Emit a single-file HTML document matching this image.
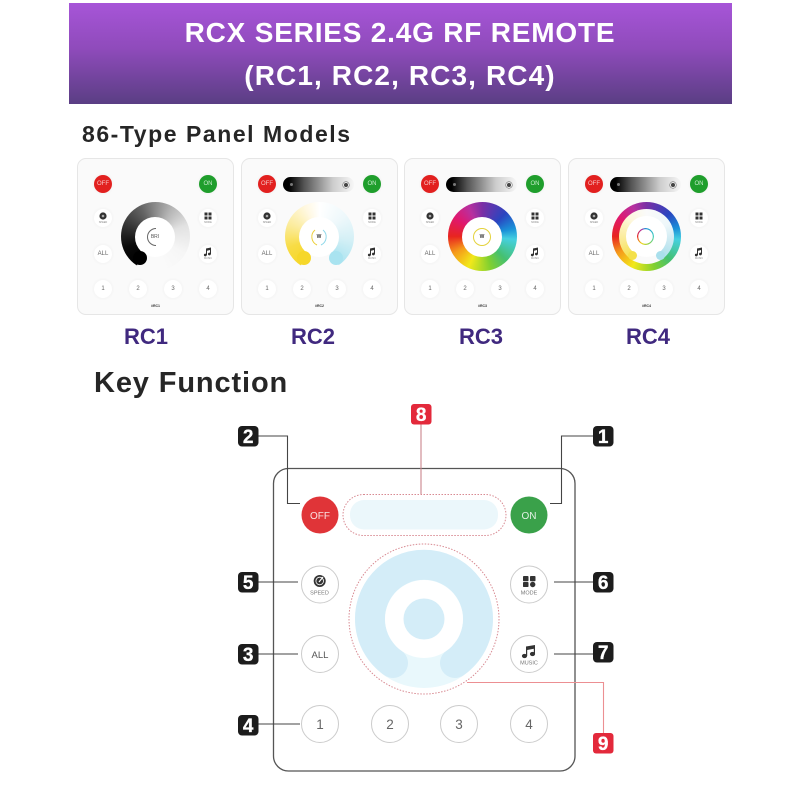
<!DOCTYPE html>
<html><head><meta charset="utf-8">
<style>
html,body{margin:0;padding:0;background:#fff;width:800px;height:800px;overflow:hidden}
body{position:relative;font-family:"Liberation Sans",sans-serif}
.abs{position:absolute}
.hdr{position:absolute;left:69px;top:3px;width:663px;height:101px;background:linear-gradient(#a755d8 0%,#8f4bbb 45%,#5a3e84 100%)}
.t{position:absolute;left:0;width:800px;text-align:center;color:#fff;font-weight:bold;white-space:nowrap}
.lab{position:absolute;top:323px;width:100px;text-align:center;font-size:22px;line-height:28px;font-weight:bold;color:#40297f}
.p{position:absolute;top:158px;width:155px;height:155px;background:#fafafa;border:1px solid #e6e6e6;border-radius:9px;filter:blur(.25px)}
.b{position:absolute;width:18px;height:18px;margin:-10px 0 0 -10px;border-radius:50%;background:#fff;box-shadow:0 0 3px #eee;font-size:6px;line-height:18px;text-align:center;color:#666}
.off{background:#e2201f;color:#f6c8c8}
.on{background:#1f9e2c;color:#c6eccb}
.b svg{position:absolute;left:0;top:0}
.b span{position:absolute;left:0;right:0;top:12px;font-size:2.5px;line-height:3px;color:#888}
.bar{position:absolute;left:41px;top:18px;width:71px;height:15px;border-radius:8px;background:linear-gradient(90deg,#000 8%,#555 30%,#ccc 70%,#f7f7f7 100%)}
.bar i{position:absolute;left:7px;top:6px;width:3px;height:3px;border-radius:50%;background:#777}
.bar b{position:absolute;left:61px;top:5.5px;width:4px;height:4px;border-radius:50%;background:#444;box-shadow:0 0 0 1px #eee,0 0 0 1.6px #777}
.w{position:absolute;left:43px;top:43px;width:69px;height:69px;border-radius:50%}
.i{position:absolute;border-radius:50%;background:#fff}
.m{position:absolute;left:0;width:155px;top:145px;text-align:center;font-size:3.5px;line-height:5px;color:#333;font-weight:bold}
.cap{position:absolute;border-radius:50%}
</style></head><body>

<div class="hdr"></div>
<div class="t" style="top:15px;font-size:28px;line-height:36px;letter-spacing:.8px">RCX SERIES 2.4G RF REMOTE</div>
<div class="t" style="top:58px;font-size:28px;line-height:36px;letter-spacing:1.1px">(RC1, RC2, RC3, RC4)</div>

<div class="abs" style="left:82px;top:119px;font-size:23px;line-height:30px;font-weight:bold;color:#262626;letter-spacing:1.55px;white-space:nowrap">86-Type Panel Models</div>
<div class="abs" style="left:94px;top:365px;font-size:29px;line-height:36px;font-weight:bold;color:#262626;letter-spacing:.87px;white-space:nowrap">Key Function</div>

<!-- RC1 -->
<div class="p" style="left:77px">
  <div class="w" style="background:conic-gradient(#8b8b8b 0deg,#b5b5b5 30deg,#e2e2e2 70deg,#f6f6f6 120deg,#fafafa 165deg,#fafafa 212deg,#000 214deg,#0a0a0a 250deg,#333 290deg,#666 335deg,#8b8b8b 360deg)"></div>
  <div class="i" style="left:57px;top:58px;width:40px;height:40px"></div>
  <div class="cap" style="left:55px;top:92px;width:14px;height:14px;background:#000"></div>
  <div class="abs" style="left:57px;top:71px;width:40px;text-align:center;font-size:5px;line-height:14px;color:#555">BRI</div>
  <svg class="abs" style="left:60px;top:61px" width="36" height="36"><path d="M18 8.5A8.5 8.5 0 0 0 18 25.5" fill="none" stroke="#666" stroke-width="1"/></svg>
  <div class="b off" style="left:26px;top:26px">OFF</div>
  <div class="b on" style="left:131px;top:26px">ON</div>
  <div class="b" style="left:26px;top:60px"><svg width="18" height="18"><circle cx="9" cy="7" r="3.6" fill="#333"/><circle cx="9" cy="7" r="1.3" fill="#aaa"/></svg><span>SPEED</span></div>
  <div class="b" style="left:131px;top:60px"><svg width="18" height="18"><path d="M5.5 3.5h3v3h-3zM9.5 3.5h3v3h-3zM5.5 7.5h3v3h-3zM9.5 7.5h3v3h-3z" fill="#333"/></svg><span>MODE</span></div>
  <div class="b" style="left:26px;top:96px">ALL</div>
  <div class="b" style="left:131px;top:96px"><svg width="18" height="18"><path d="M7 3.5L12 2.5V9H11V5L8 5.7V10H7Z" fill="#333"/><circle cx="6.3" cy="10" r="1.4" fill="#333"/><circle cx="10.4" cy="9" r="1.4" fill="#333"/></svg><span>MUSIC</span></div>
  <div class="b" style="left:26px;top:131px">1</div>
  <div class="b" style="left:61px;top:131px">2</div>
  <div class="b" style="left:96px;top:131px">3</div>
  <div class="b" style="left:131px;top:131px">4</div>
  <div class="m">#RC1</div>
</div>

<!-- RC2 -->
<div class="p" style="left:241px">
  <div class="bar"><i></i><b></b></div>
  <div class="w" style="background:conic-gradient(#fff 0deg,#eef8fb 50deg,#d5f0f6 95deg,#a9e3f0 145deg,#fafafa 147deg,#fafafa 212deg,#f6d72a 214deg,#f8dc45 250deg,#fbeb99 290deg,#fff8e2 335deg,#fff 360deg)"></div>
  <div class="i" style="left:57px;top:58px;width:40px;height:40px"></div>
  <div class="cap" style="left:55px;top:92px;width:14px;height:14px;background:#f6d72a"></div>
  <div class="cap" style="left:87px;top:92px;width:14px;height:14px;background:#a9e3f0"></div>
  <div class="abs" style="left:57px;top:71px;width:40px;text-align:center;font-size:5px;line-height:14px;color:#333;font-weight:bold">W</div>
  <svg class="abs" style="left:60px;top:61px" width="36" height="36"><path d="M13 10A9 9 0 0 0 15 25" fill="none" stroke="#eccf3a" stroke-width="1"/><path d="M21 10A9 9 0 0 1 19 25" fill="none" stroke="#8ed8ea" stroke-width="1"/></svg>
  <div class="b off" style="left:26px;top:26px">OFF</div>
  <div class="b on" style="left:131px;top:26px">ON</div>
  <div class="b" style="left:26px;top:60px"><svg width="18" height="18"><circle cx="9" cy="7" r="3.6" fill="#333"/><circle cx="9" cy="7" r="1.3" fill="#aaa"/></svg><span>SPEED</span></div>
  <div class="b" style="left:131px;top:60px"><svg width="18" height="18"><path d="M5.5 3.5h3v3h-3zM9.5 3.5h3v3h-3zM5.5 7.5h3v3h-3zM9.5 7.5h3v3h-3z" fill="#333"/></svg><span>MODE</span></div>
  <div class="b" style="left:26px;top:96px">ALL</div>
  <div class="b" style="left:131px;top:96px"><svg width="18" height="18"><path d="M7 3.5L12 2.5V9H11V5L8 5.7V10H7Z" fill="#333"/><circle cx="6.3" cy="10" r="1.4" fill="#333"/><circle cx="10.4" cy="9" r="1.4" fill="#333"/></svg><span>MUSIC</span></div>
  <div class="b" style="left:26px;top:131px">1</div>
  <div class="b" style="left:61px;top:131px">2</div>
  <div class="b" style="left:96px;top:131px">3</div>
  <div class="b" style="left:131px;top:131px">4</div>
  <div class="m">#RC2</div>
</div>

<!-- RC3 -->
<div class="p" style="left:404px">
  <div class="bar"><i></i><b></b></div>
  <div class="w" style="background:conic-gradient(#7a2fa5 0deg,#2a45c0 45deg,#1a90d8 75deg,#45d0e0 95deg,#45c070 135deg,#80d030 165deg,#f2e81a 205deg,#f59a1a 240deg,#e8251f 270deg,#e0186e 305deg,#b8309f 335deg,#7a2fa5 360deg)"></div>
  <div class="i" style="left:57px;top:58px;width:40px;height:40px"></div>
  <div class="abs" style="left:68px;top:69px;width:16px;height:16px;border-radius:50%;border:1px solid #e4d23c;text-align:center;font-size:5px;line-height:16px;font-weight:bold;color:#333">W</div>
  <div class="b off" style="left:26px;top:26px">OFF</div>
  <div class="b on" style="left:131px;top:26px">ON</div>
  <div class="b" style="left:26px;top:60px"><svg width="18" height="18"><circle cx="9" cy="7" r="3.6" fill="#333"/><circle cx="9" cy="7" r="1.3" fill="#aaa"/></svg><span>SPEED</span></div>
  <div class="b" style="left:131px;top:60px"><svg width="18" height="18"><path d="M5.5 3.5h3v3h-3zM9.5 3.5h3v3h-3zM5.5 7.5h3v3h-3zM9.5 7.5h3v3h-3z" fill="#333"/></svg><span>MODE</span></div>
  <div class="b" style="left:26px;top:96px">ALL</div>
  <div class="b" style="left:131px;top:96px"><svg width="18" height="18"><path d="M7 3.5L12 2.5V9H11V5L8 5.7V10H7Z" fill="#333"/><circle cx="6.3" cy="10" r="1.4" fill="#333"/><circle cx="10.4" cy="9" r="1.4" fill="#333"/></svg><span>MUSIC</span></div>
  <div class="b" style="left:26px;top:131px">1</div>
  <div class="b" style="left:61px;top:131px">2</div>
  <div class="b" style="left:96px;top:131px">3</div>
  <div class="b" style="left:131px;top:131px">4</div>
  <div class="m">#RC3</div>
</div>

<!-- RC4 -->
<div class="p" style="left:568px">
  <div class="bar"><i></i><b></b></div>
  <div class="w" style="background:conic-gradient(#7a2fa5 0deg,#2a45c0 45deg,#1a90d8 75deg,#45d0e0 95deg,#45c070 135deg,#80d030 165deg,#f2e81a 205deg,#f59a1a 240deg,#e8251f 270deg,#e0186e 305deg,#b8309f 335deg,#7a2fa5 360deg)"></div>
  <div class="i" style="left:50px;top:50px;width:55px;height:55px;background:conic-gradient(#fafafa 0deg,#eef7fa 60deg,#cdeaf2 100deg,#a9dfec 145deg,#fafafa 147deg,#fafafa 212deg,#f4e04a 214deg,#fbeb99 265deg,#fdf8e0 320deg,#fafafa 360deg)"></div>
  <div class="i" style="left:57px;top:57px;width:41px;height:41px;background:#fff"></div>
  <div class="cap" style="left:59px;top:92px;width:9px;height:9px;background:#f4e04a"></div>
  <div class="cap" style="left:87px;top:92px;width:9px;height:9px;background:#a9dfec"></div>
  <div class="abs" style="left:68px;top:69px;width:17px;height:17px;border-radius:50%;background:conic-gradient(#1a8fd8 0deg,#45d0c0 90deg,#90d040 160deg,#f2d81a 210deg,#e8251f 270deg,#b030a0 330deg,#1a8fd8 360deg);-webkit-mask:radial-gradient(circle,transparent 7px,#000 7.5px);mask:radial-gradient(circle,transparent 7px,#000 7.5px)"></div>
  <div class="b off" style="left:26px;top:26px">OFF</div>
  <div class="b on" style="left:131px;top:26px">ON</div>
  <div class="b" style="left:26px;top:60px"><svg width="18" height="18"><circle cx="9" cy="7" r="3.6" fill="#333"/><circle cx="9" cy="7" r="1.3" fill="#aaa"/></svg><span>SPEED</span></div>
  <div class="b" style="left:131px;top:60px"><svg width="18" height="18"><path d="M5.5 3.5h3v3h-3zM9.5 3.5h3v3h-3zM5.5 7.5h3v3h-3zM9.5 7.5h3v3h-3z" fill="#333"/></svg><span>MODE</span></div>
  <div class="b" style="left:26px;top:96px">ALL</div>
  <div class="b" style="left:131px;top:96px"><svg width="18" height="18"><path d="M7 3.5L12 2.5V9H11V5L8 5.7V10H7Z" fill="#333"/><circle cx="6.3" cy="10" r="1.4" fill="#333"/><circle cx="10.4" cy="9" r="1.4" fill="#333"/></svg><span>MUSIC</span></div>
  <div class="b" style="left:26px;top:131px">1</div>
  <div class="b" style="left:61px;top:131px">2</div>
  <div class="b" style="left:96px;top:131px">3</div>
  <div class="b" style="left:131px;top:131px">4</div>
  <div class="m">#RC4</div>
</div>

<div class="lab" style="left:96px">RC1</div>
<div class="lab" style="left:263px">RC2</div>
<div class="lab" style="left:431px">RC3</div>
<div class="lab" style="left:598px">RC4</div>

<svg class="abs" style="left:0;top:0" width="800" height="800" viewBox="0 0 800 800" font-family="'Liberation Sans',sans-serif">
  <!-- frame -->
  <rect x="273.5" y="468.5" width="301.5" height="302.5" rx="15" fill="#fff" stroke="#555" stroke-width="1.3"/>
  <!-- top bar -->
  <rect x="343" y="494.5" width="163" height="41" rx="20.5" fill="#fff" stroke="#d88a92" stroke-width="1" stroke-dasharray="1.5 1.5"/>
  <rect x="350" y="500" width="148" height="29.5" rx="14" fill="#ebf7fb"/>
  <!-- wheel -->
  <circle cx="424" cy="619" r="75" fill="#fff" stroke="#d88a92" stroke-width="1" stroke-dasharray="1.5 1.5"/>
  <circle cx="424" cy="619" r="69" fill="#e9f8fc"/>
  <path d="M393 663A54 54 0 1 1 455 663" fill="none" stroke="#d4edf8" stroke-width="30" stroke-linecap="round"/>
  <circle cx="424" cy="619" r="39" fill="#fff"/>
  <circle cx="424" cy="619" r="20.5" fill="#d4edf8"/>
  <!-- connectors -->
  <g fill="none" stroke="#444" stroke-width="1.1">
    <path d="M258 436H287.5V503.5H300"/>
    <path d="M593 436H561.5V503.5H550"/>
    <path d="M258 582H298"/>
    <path d="M554 582H593"/>
    <path d="M258 654H298"/>
    <path d="M554 654H593"/>
    <path d="M258 724H300"/>
  </g>
  <path d="M421 424V494" fill="none" stroke="#c9868c" stroke-width="1.1"/>
  <path d="M467 682.5H603.5V733" fill="none" stroke="#ec8f92" stroke-width="1.1"/>
  <!-- round buttons -->
  <circle cx="320" cy="515" r="18.5" fill="#e03438"/>
  <circle cx="529" cy="515" r="18.5" fill="#3aa14a"/>
  <g font-size="10" fill="#fff" text-anchor="middle" opacity=".85">
    <text x="320" y="519">OFF</text>
    <text x="529" y="519">ON</text>
  </g>
  <g fill="#fff" stroke="#ccc" stroke-width="1">
    <circle cx="320" cy="584.5" r="18.5"/>
    <circle cx="529" cy="584.5" r="18.5"/>
    <circle cx="320" cy="654" r="18.5"/>
    <circle cx="529" cy="654" r="18.5"/>
    <circle cx="320" cy="724" r="18.5"/>
    <circle cx="390" cy="724" r="18.5"/>
    <circle cx="459" cy="724" r="18.5"/>
    <circle cx="529" cy="724" r="18.5"/>
  </g>
  <!-- speed icon -->
  <circle cx="319.7" cy="581" r="6" fill="#333"/>
  <circle cx="319.7" cy="581" r="3.8" fill="none" stroke="#fff" stroke-width=".8"/>
  <path d="M319 582L323 577" stroke="#fff" stroke-width="1.2"/>
  <!-- mode icon -->
  <g fill="#333">
    <rect x="523" y="576" width="5.5" height="5.2" rx=".8"/>
    <rect x="530" y="576" width="5.5" height="5.2" rx=".8"/>
    <rect x="523" y="582" width="5.5" height="5" rx=".8"/>
    <circle cx="532.7" cy="584.5" r="2.7"/>
  </g>
  <!-- music icon -->
  <g fill="#333">
    <ellipse cx="524.5" cy="656" rx="2.6" ry="2.1"/>
    <ellipse cx="532.5" cy="654" rx="2.6" ry="2.1"/>
    <path d="M526 656V646.5L535 645V654H533.8V648.8L527.2 650V656Z"/>
  </g>
  <g font-size="5.5" fill="#777" text-anchor="middle">
    <text x="319.5" y="594.5">SPEED</text>
    <text x="529" y="594.5">MODE</text>
    <text x="529" y="664.5">MUSIC</text>
  </g>
  <g font-size="9.5" fill="#555" text-anchor="middle">
    <text x="320" y="658">ALL</text>
  </g>
  <g font-size="13.5" fill="#666" text-anchor="middle">
    <text x="320" y="729">1</text>
    <text x="390" y="729">2</text>
    <text x="459" y="729">3</text>
    <text x="529" y="729">4</text>
  </g>
  <!-- badges -->
  <g fill="#1c1c1c">
    <rect x="238" y="426" width="20.5" height="20.5" rx="4"/>
    <rect x="593" y="426" width="20.5" height="20.5" rx="4"/>
    <rect x="238" y="572" width="20.5" height="20.5" rx="4"/>
    <rect x="593" y="572" width="20.5" height="20.5" rx="4"/>
    <rect x="238" y="644" width="20.5" height="20.5" rx="4"/>
    <rect x="593" y="642" width="20.5" height="20.5" rx="4"/>
    <rect x="238" y="715" width="20.5" height="20.5" rx="4"/>
  </g>
  <g fill="#e3293b">
    <rect x="411" y="404" width="20.5" height="20.5" rx="3"/>
    <rect x="593" y="733" width="20.5" height="20.5" rx="3"/>
  </g>
  <g font-size="19" font-weight="bold" fill="#fff" text-anchor="middle" stroke="#fff" stroke-width=".3">
    <text x="248.2" y="443">2</text>
    <text x="603.2" y="443">1</text>
    <text x="421.2" y="421">8</text>
    <text x="248.2" y="589">5</text>
    <text x="603.2" y="589">6</text>
    <text x="248.2" y="661">3</text>
    <text x="603.2" y="659">7</text>
    <text x="248.2" y="732">4</text>
    <text x="603.2" y="750">9</text>
  </g>
</svg>
</body></html>
